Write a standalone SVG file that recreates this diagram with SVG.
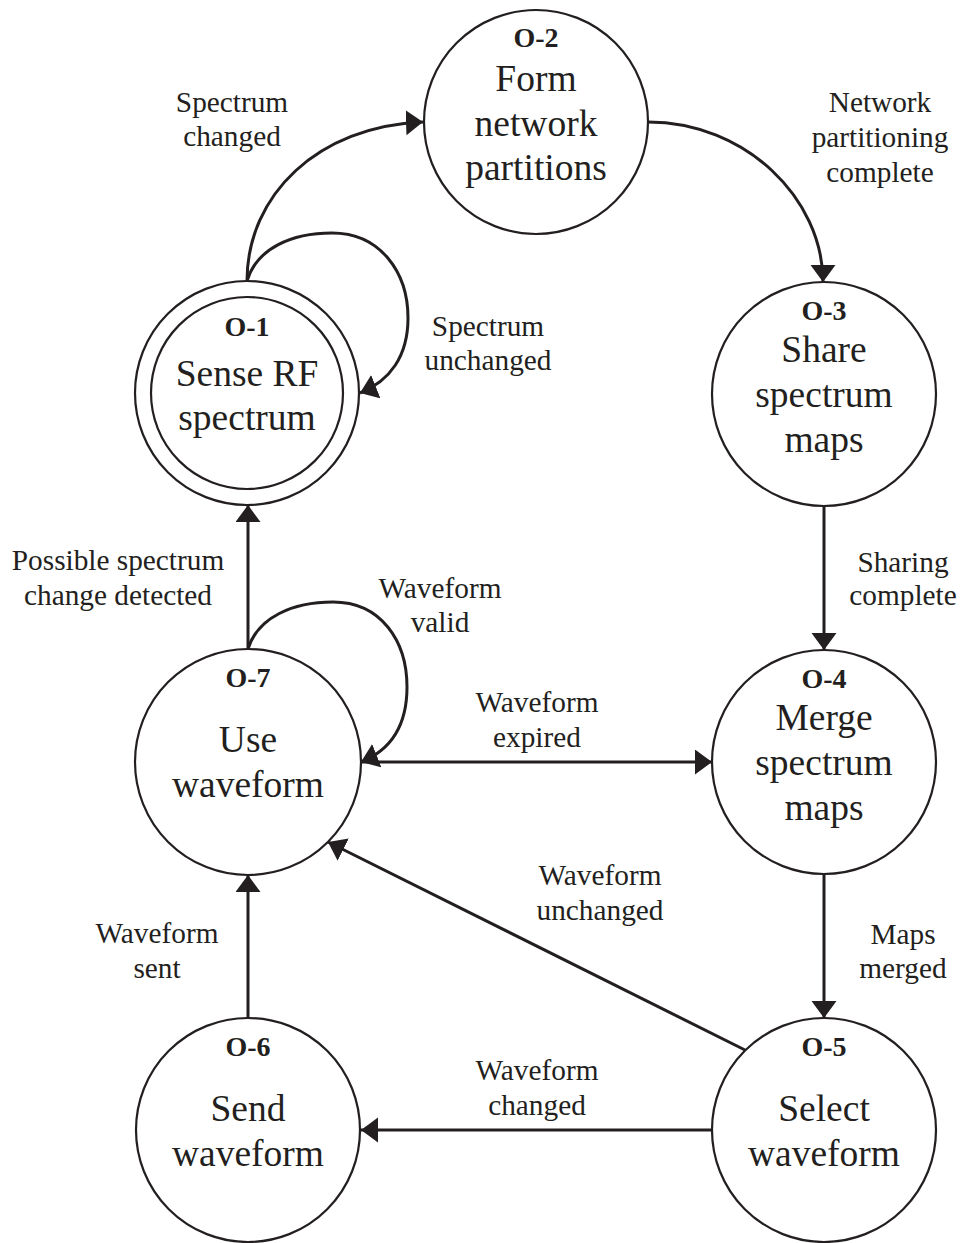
<svg xmlns="http://www.w3.org/2000/svg" width="963" height="1243" viewBox="0 0 963 1243">
<style>
.node{fill:#fff;stroke:#231f20;stroke-width:2.2}
.id{font-family:"Liberation Serif",serif;font-weight:bold;font-size:28px;fill:#231f20;text-anchor:middle}
.nt{font-family:"Liberation Serif",serif;font-size:37.5px;fill:#231f20;text-anchor:middle}
.lb{font-family:"Liberation Serif",serif;font-size:29.3px;fill:#231f20;text-anchor:middle}
.edge{fill:none;stroke:#231f20;stroke-width:3;marker-end:url(#arr)}
</style>
<defs>
<marker id="arr" markerUnits="userSpaceOnUse" markerWidth="18" markerHeight="26" refX="17" refY="12.5" orient="auto" viewBox="0 0 18 26">
<path d="M0,0 L17,12.5 L0,25 z" fill="#231f20"/>
</marker>
</defs>
<rect width="963" height="1243" fill="#fff"/>
<g id="connectors">
<path class="edge" d="M247 281 C247 195 318 126 423 122"/>
<path class="edge" d="M247 281 C257 248 292 233 332 233 C380 233 408 272 408 318 C408 356 390 381 360 393"/>
<path class="edge" d="M648 122 C745 122 823 198 823 282"/>
<path class="edge" d="M824 506 L824 650"/>
<path class="edge" d="M824 874 L824 1018"/>
<path class="edge" d="M712 1130 L361 1130"/>
<path class="edge" d="M745 1050 L328 842"/>
<path class="edge" d="M248 1018 L248 875"/>
<path class="edge" d="M248 649 C258 617 293 602 333 602 C381 602 407 641 407 687 C407 725 391 750 361 762"/>
<path class="edge" d="M361 762 L712 762"/>
<path class="edge" d="M248 649 L248 505"/>
</g>
<g id="labels">
<text class="lb" x="232" y="112">Spectrum</text>
<text class="lb" x="232" y="146">changed</text>
<text class="lb" x="880" y="112">Network</text>
<text class="lb" x="880" y="147">partitioning</text>
<text class="lb" x="880" y="182">complete</text>
<text class="lb" x="488" y="336">Spectrum</text>
<text class="lb" x="488" y="370">unchanged</text>
<text class="lb" x="118" y="570">Possible spectrum</text>
<text class="lb" x="118" y="605">change detected</text>
<text class="lb" x="440" y="598">Waveform</text>
<text class="lb" x="440" y="632">valid</text>
<text class="lb" x="903" y="572">Sharing</text>
<text class="lb" x="903" y="605">complete</text>
<text class="lb" x="537" y="712">Waveform</text>
<text class="lb" x="537" y="747">expired</text>
<text class="lb" x="600" y="885">Waveform</text>
<text class="lb" x="600" y="920">unchanged</text>
<text class="lb" x="903" y="944">Maps</text>
<text class="lb" x="903" y="978">merged</text>
<text class="lb" x="157" y="943">Waveform</text>
<text class="lb" x="157" y="978">sent</text>
<text class="lb" x="537" y="1080">Waveform</text>
<text class="lb" x="537" y="1115">changed</text>
</g>
<g id="O-1">
<circle class="node" cx="247" cy="393" r="112"/>
<circle class="node" cx="247" cy="393" r="96"/>
<text class="id" x="247" y="336">O-1</text>
<text class="nt" x="247" y="386">Sense RF</text>
<text class="nt" x="247" y="430">spectrum</text>
</g>
<g id="O-2">
<circle class="node" cx="536" cy="122" r="112"/>
<text class="id" x="536" y="47">O-2</text>
<text class="nt" x="536" y="91">Form</text>
<text class="nt" x="536" y="136">network</text>
<text class="nt" x="536" y="180">partitions</text>
</g>
<g id="O-3">
<circle class="node" cx="824" cy="394" r="112"/>
<text class="id" x="824" y="320">O-3</text>
<text class="nt" x="824" y="362">Share</text>
<text class="nt" x="824" y="407">spectrum</text>
<text class="nt" x="824" y="452">maps</text>
</g>
<g id="O-4">
<circle class="node" cx="824" cy="762" r="112"/>
<text class="id" x="824" y="688">O-4</text>
<text class="nt" x="824" y="730">Merge</text>
<text class="nt" x="824" y="775">spectrum</text>
<text class="nt" x="824" y="820">maps</text>
</g>
<g id="O-5">
<circle class="node" cx="824" cy="1130" r="112"/>
<text class="id" x="824" y="1056">O-5</text>
<text class="nt" x="824" y="1121">Select</text>
<text class="nt" x="824" y="1166">waveform</text>
</g>
<g id="O-6">
<circle class="node" cx="248" cy="1130" r="112"/>
<text class="id" x="248" y="1056">O-6</text>
<text class="nt" x="248" y="1121">Send</text>
<text class="nt" x="248" y="1166">waveform</text>
</g>
<g id="O-7">
<circle class="node" cx="248" cy="762" r="113"/>
<text class="id" x="248" y="687">O-7</text>
<text class="nt" x="248" y="752">Use</text>
<text class="nt" x="248" y="797">waveform</text>
</g>
</svg>
